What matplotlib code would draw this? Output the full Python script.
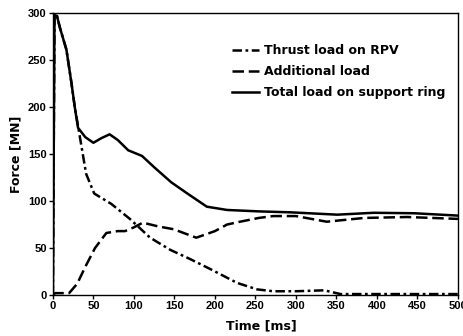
import matplotlib
matplotlib.use("Agg")
import matplotlib.pyplot as plt

# Thrust load on RPV (dash-dot)
t_thrust = [0, 2, 5, 8.5, 16.7, 23, 27, 31, 41, 51, 72, 95, 120, 145, 170, 198, 227, 252, 272, 300, 335, 355, 400, 450, 500]
f_thrust = [0, 298, 297, 285, 261, 225, 200, 180, 129, 108, 97, 81, 61, 48, 38, 26, 13, 6, 4, 4, 5, 1, 1, 1, 1]

# Additional load (dashed)
t_add = [0, 3, 20, 30, 40, 52, 66, 80, 89, 100, 111, 130, 149, 177, 200, 215, 231, 254, 272, 300, 338, 384, 437, 500]
f_add = [0, 2, 2, 12, 30, 50, 66, 68, 68, 72, 77, 73, 70, 61, 68, 75, 78, 82, 84, 84, 78, 82, 83, 81]

# Total load on support ring (solid)
t_total = [0, 2, 5, 8.5, 16.7, 23, 27, 31, 40, 50, 60, 70, 80, 93, 110, 125, 146, 166, 190, 215, 254, 293, 351, 396, 446, 500]
f_total = [0, 298, 297, 285, 261, 225, 200, 178, 168, 162, 167, 171, 165, 154, 148, 136, 120, 108, 94, 90.5, 89, 88, 85.5, 87.5, 87, 84.5]

x_ticks = [0, 50, 100, 150, 200, 250, 300, 350, 400, 450, 500]
y_ticks = [0, 50, 100, 150, 200, 250, 300]

fig = plt.figure(figsize=(4.64, 3.36), dpi=100)
ax = fig.add_axes([0.114, 0.122, 0.873, 0.839])

lw = 1.8
ax.plot(t_thrust, f_thrust, color="black", lw=lw, dashes=(3.8, 1.4, 1.1, 1.4), label="Thrust load on RPV")
ax.plot(t_add, f_add, color="black", lw=lw, dashes=(4.6, 1.9), label="Additional load")
ax.plot(t_total, f_total, color="black", lw=lw, label="Total load on support ring")

ax.set_xlim(0, 500)
ax.set_ylim(0, 300)
ax.set_xticks(x_ticks)
ax.set_yticks(y_ticks)

tickfont = dict(family=["Liberation Sans", "DejaVu Sans"], weight="bold", size=8)
ax.set_xticklabels([str(v) for v in x_ticks], **tickfont)
ax.set_yticklabels([str(v) for v in y_ticks], **tickfont)
ax.tick_params(axis="both", direction="out", length=3, width=1, pad=1.5)

labfont = dict(family=["DejaVu Sans"], weight="bold", size=9)
ax.set_xlabel("Time [ms]", **labfont)
ax.set_ylabel("Force [MN]", labelpad=4, **labfont)
ax.xaxis.set_label_coords(0.515, -0.085)

for s in ax.spines.values():
    s.set_linewidth(1)

leg = ax.legend(loc="upper left", bbox_to_anchor=(0.442, 0.89), frameon=False,
                borderaxespad=0, borderpad=0,
                prop=dict(family=["DejaVu Sans"], weight="bold", size=9),
                handlelength=2.2, handletextpad=0.4, labelspacing=0.65)

fig.savefig("out.png", dpi=100)
